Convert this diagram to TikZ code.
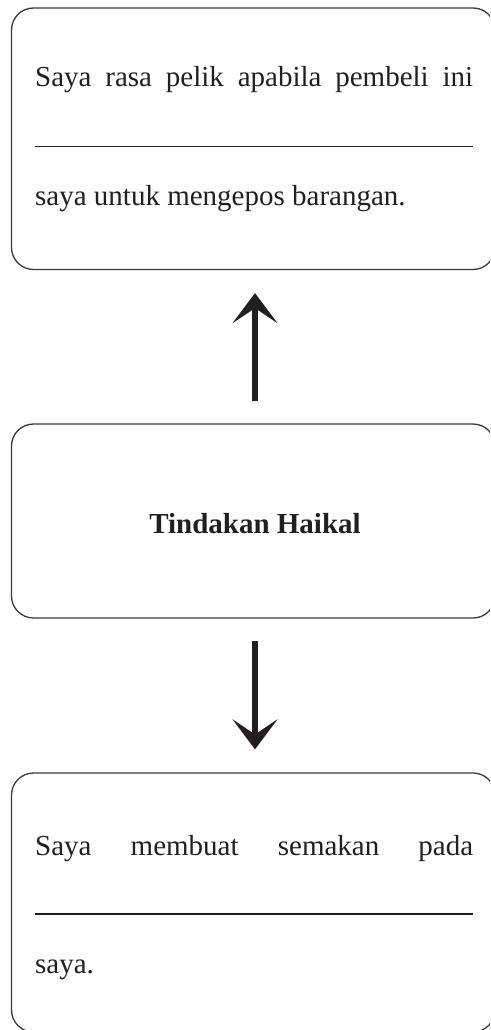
\documentclass[tikz,border=0pt]{standalone}
\usepackage{fontspec}
\setmainfont{Liberation Serif}
\usetikzlibrary{arrows.meta}
\definecolor{ink}{HTML}{231F20}
\definecolor{edge}{HTML}{3A3A3A}
\tikzset{
  box/.style={draw=edge, line width=1.3pt, rounded corners=22pt, inner sep=0pt},
  txt/.style={anchor=base west, inner sep=0pt, text=ink, font=\fontsize{29}{34}\selectfont},
  ttl/.style={anchor=base, inner sep=0pt, text=ink, font=\fontsize{29}{34}\selectfont\bfseries},
  blank/.style={draw=ink, line width=1.2pt},
  arr/.style={draw=ink, line width=6.5pt, -{Stealth[length=30pt,width=45pt,inset=15pt]}}
}
\begin{document}
\begin{tikzpicture}[x=1pt,y=-1pt]
\clip (0,0) rectangle (490,1030);
% boxes
\node[box, minimum width=483.5pt, minimum height=261.5pt] (b1) at (253.25,138.75) {};
\node[box, minimum width=483.5pt, minimum height=194pt] (b2) at (253.25,521) {};
\node[box, minimum width=483.5pt, minimum height=259pt] (b3) at (253.25,902.5) {};
% box 1 text
\node[txt] (t1a) at (35,87) {\makebox[438pt][s]{Saya rasa pelik apabila pembeli ini}};
\draw[blank] (35,146.7) -- (473,146.7);
\node[txt] (t1b) at (35,205) {saya untuk mengepos barangan.};
% box 2 text
\node[ttl] (t2) at (255,533) {Tindakan Haikal};
% box 3 text
\node[txt] (t3a) at (35,855) {\makebox[438pt][s]{Saya membuat semakan pada}};
\draw[blank] (35,914) -- (473,914);
\node[txt] (t3b) at (35,973) {saya.};
% arrows
\draw[arr, shorten <=22pt, shorten >=23pt] ([xshift=1.75pt]b2.north) -- ([xshift=1.75pt]b1.south);
\draw[arr, shorten <=22pt, shorten >=23pt] ([xshift=1.75pt]b2.south) -- ([xshift=1.75pt]b3.north);
\end{tikzpicture}
\end{document}
